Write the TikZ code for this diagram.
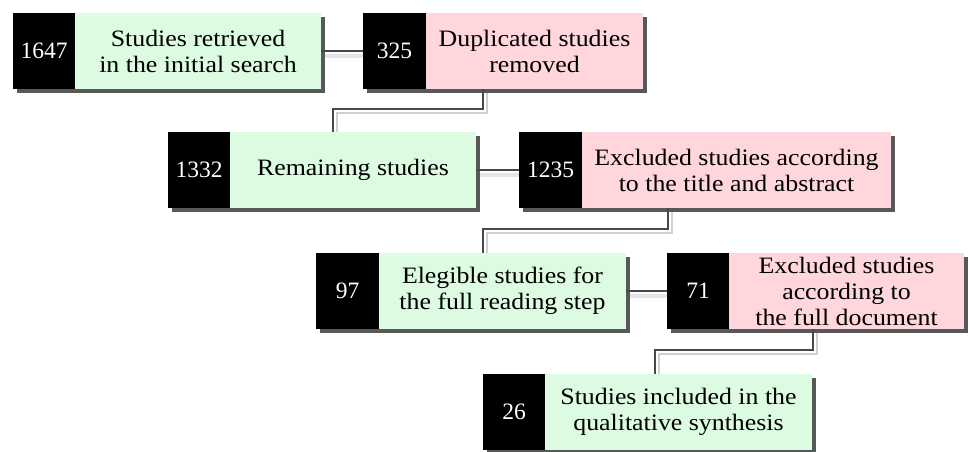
\documentclass[tikz,border=0pt]{standalone}
\usepackage{fontspec}
\setmainfont[FakeStretch=1.1]{Liberation Serif}
\newfontfamily\numfont{Liberation Serif}
\usetikzlibrary{calc,backgrounds}
\definecolor{cellgreen}{RGB}{221,251,224}
\definecolor{cellpink}{RGB}{255,214,220}
\definecolor{boxshadow}{RGB}{88,88,88}
\definecolor{linkdark}{RGB}{72,72,72}
\definecolor{linklight}{RGB}{208,208,208}
\begin{document}
\begin{tikzpicture}[x=1pt,y=1pt,
  cellbase/.style={anchor=north west, minimum height=76pt, inner sep=0pt, outer sep=0pt},
  numcell/.style={cellbase, fill=black, text=white, font=\numfont\fontsize{23.5}{26}\selectfont},
  textcell/.style={cellbase, align=center, font=\fontsize{23.5}{26}\selectfont},
  greencell/.style={textcell, fill=cellgreen},
  pinkcell/.style={textcell, fill=cellpink},
  link/.style={draw=linkdark, line width=1.3pt},
  linkshade/.style={draw=linklight, line width=2pt},
  hlinkshade/.style={draw=linklight!55, line width=4pt},
  ]
\useasboundingbox (0,0) rectangle (968,-451);

% boxes
\node[numcell, minimum width=62pt] (n1) at (13,-13) {1647};
\node[greencell, minimum width=246pt] (t1) at (n1.north east) {Studies retrieved\\in the initial search};
\node[numcell, minimum width=63pt] (n2) at (363,-13) {325};
\node[pinkcell, minimum width=217pt] (t2) at (n2.north east) {Duplicated studies\\removed};
\node[numcell, minimum width=62pt] (n3) at (168,-132) {1332};
\node[greencell, minimum width=246pt] (t3) at (n3.north east) {Remaining studies};
\node[numcell, minimum width=63pt] (n4) at (519,-132) {1235};
\node[pinkcell, minimum width=309pt] (t4) at (n4.north east) {Excluded studies according\\to the title and abstract};
\node[numcell, minimum width=63pt] (n5) at (316,-253) {97};
\node[greencell, minimum width=247pt] (t5) at (n5.north east) {Elegible studies for\\the full reading step};
\node[numcell, minimum width=62pt] (n6) at (667,-253) {71};
\node[pinkcell, minimum width=235pt] (t6) at (n6.north east) {Excluded studies\\according to\\the full document};
\node[numcell, minimum width=62pt] (n7) at (483,-374) {26};
\node[greencell, minimum width=267pt] (t7) at (n7.north east) {Studies included in the\\qualitative synthesis};

\coordinate (k1a) at (483,-109);
\coordinate (k1b) at (333,-109);
\coordinate (k2a) at (668,-229);
\coordinate (k2b) at (483,-229);
\coordinate (k3a) at (813,-350);
\coordinate (k3b) at (655,-350);

\begin{pgfonlayer}{background}
  % box shadows
  \foreach \a/\b in {n1/t1,n2/t2,n3/t3,n4/t4,n5/t5,n6/t6,n7/t7}{
    \fill[boxshadow] ($(\a.north west)+(4,-4)$) rectangle ($(\b.south east)+(4,-4)$);
  }
  % connector shades
  \draw[hlinkshade] ($(t1.east)+(4,-5)$) -- ($(n2.west)+(0,-5)$);
  \draw[hlinkshade] ($(t3.east)+(4,-5)$) -- ($(n4.west)+(0,-5)$);
  \draw[hlinkshade] ($(t5.east)+(4,-5)$) -- ($(n6.west)+(0,-5)$);
  \draw[linkshade] ($(t2.south -| k1a)+(4,-4)$) -- ($(k1a)+(4,-4)$) -- ($(k1b)+(4,-4)$) -- ($(t3.north -| k1b)+(4,0)$);
  \draw[linkshade] ($(t4.south -| k2a)+(4,-4)$) -- ($(k2a)+(4,-4)$) -- ($(k2b)+(4,-4)$) -- ($(t5.north -| k2b)+(4,0)$);
  \draw[linkshade] ($(t6.south -| k3a)+(4,-4)$) -- ($(k3a)+(4,-4)$) -- ($(k3b)+(4,-4)$) -- ($(t7.north -| k3b)+(4,0)$);
  % connectors
  \draw[link] (t1.east) -- (n2.west);
  \draw[link] (t3.east) -- (n4.west);
  \draw[link] (t5.east) -- (n6.west);
  \draw[link] (t2.south -| k1a) -- (k1a) -- (k1b) -- (t3.north -| k1b);
  \draw[link] (t4.south -| k2a) -- (k2a) -- (k2b) -- (t5.north -| k2b);
  \draw[link] (t6.south -| k3a) -- (k3a) -- (k3b) -- (t7.north -| k3b);
\end{pgfonlayer}
\end{tikzpicture}
\end{document}
